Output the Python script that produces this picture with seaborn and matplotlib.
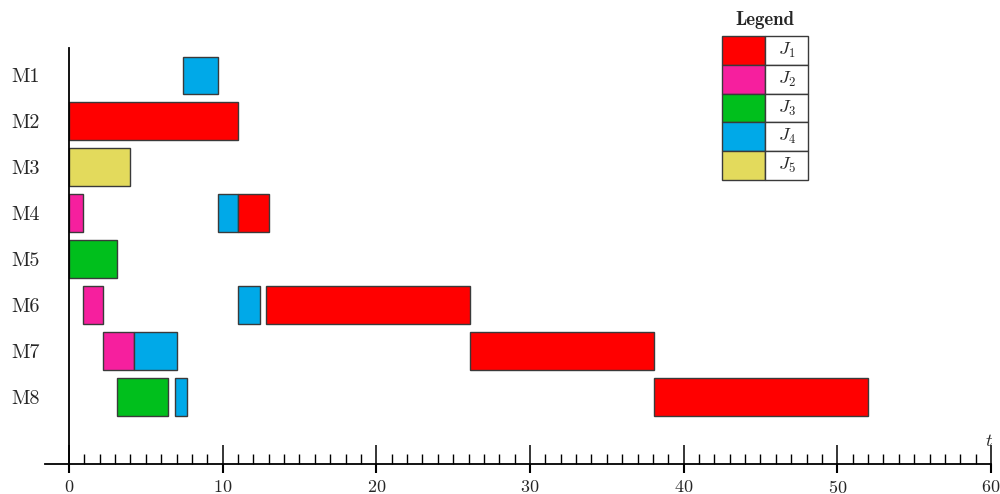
import matplotlib
matplotlib.use("Agg")
import matplotlib.pyplot as plt
import matplotlib.transforms as mtransforms
from matplotlib.patches import Rectangle
import seaborn as sns
import pandas as pd

# schedule data
machines = ["M1", "M2", "M3", "M4", "M5", "M6", "M7", "M8"]
task_machine = ["M1", "M2", "M3", "M4", "M4", "M4", "M5", "M6", "M6", "M6",
                "M7", "M7", "M7", "M8", "M8", "M8"]
task_job = ["J4", "J1", "J5", "J2", "J4", "J1", "J3", "J2", "J4", "J1",
            "J2", "J4", "J1", "J3", "J4", "J1"]
task_start = [7.4, 0, 0, 0, 9.7, 11.0, 0, 0.9, 11.0, 12.8,
              2.2, 4.2, 26.1, 3.1, 6.9, 38.1]
task_end = [9.7, 11.0, 4.0, 0.9, 11.0, 13.0, 3.1, 2.2, 12.4, 26.1,
            4.2, 7.0, 38.1, 6.45, 7.7, 52.0]

jobs = ["J1", "J2", "J3", "J4", "J5"]
job_labels = [r"$J_1$", r"$J_2$", r"$J_3$", r"$J_4$", r"$J_5$"]
job_colors = ["#FF0000", "#F61F9E", "#00BF1C", "#00A9E8", "#E3DA5C"]

df = pd.DataFrame({"machine": task_machine, "job": task_job,
                   "start": task_start, "end": task_end})
df["row"] = df["machine"].map({m: i for i, m in enumerate(machines)})
df["dur"] = df["end"] - df["start"]
palette = dict(zip(jobs, job_colors))

sns.set_style("white")
plt.rcParams["font.family"] = ["cmr10", "DejaVu Serif"]
plt.rcParams["mathtext.fontset"] = "cm"
plt.rcParams["axes.formatter.use_mathtext"] = True

fig = plt.figure(figsize=(10, 4.94), dpi=100)
ax = fig.add_axes([0.045, 1 - 464 / 494, 0.991 - 0.045, (464 - 48) / 494])

ax.barh(df["row"], df["dur"], left=df["start"], height=0.81,
        color=df["job"].map(palette), edgecolor="#3a3a3a", linewidth=1.0)

ax.set_xlim(-1.56, 60)
ax.set_ylim(8.46, -0.59)
ax.set_yticks(range(len(machines)))
ax.set_yticklabels(machines)

for s in ["top", "right"]:
    ax.spines[s].set_visible(False)
ax.spines["left"].set_position(("data", 0))
ax.spines["left"].set_linewidth(1.3)
ax.spines["bottom"].set_linewidth(1.3)
ax.spines["left"].set_color("black")
ax.spines["bottom"].set_color("black")

ax.set_xticks(range(0, 61, 10))
ax.set_xticks(range(0, 61, 1), minor=True)
ax.tick_params(axis="x", which="major", bottom=True, direction="in", length=13.7,
               width=1.1, pad=11, labelsize=13, color="black")
ax.tick_params(axis="x", which="minor", bottom=True, direction="in", length=7.2,
               width=1.0, color="black")
ax.tick_params(axis="y", left=False, length=0, pad=21, labelsize=14.5)
ax.set_xlabel("")
ax.set_ylabel("")

# downward part of the major ticks
trans = mtransforms.blended_transform_factory(ax.transData, ax.transAxes)
ax.vlines(range(0, 61, 10), -9 / 416, 0, transform=trans, color="black",
          linewidth=1.5, clip_on=False)
ax.text(59.85, 0.035, r"$t$", transform=trans, fontsize=13, ha="center",
        va="bottom")

# legend table
lx0, lx1, lx2 = 722 / 1000, 765 / 1000, 808 / 1000
ly_top = 1 - 36 / 494
row_h = 28.8 / 494
for i, (lab, col) in enumerate(zip(job_labels, job_colors)):
    y0 = ly_top - (i + 1) * row_h
    fig.patches.append(Rectangle((lx0, y0), lx1 - lx0, row_h, facecolor=col,
                                 edgecolor="#3a3a3a", linewidth=1.0,
                                 transform=fig.transFigure))
    fig.patches.append(Rectangle((lx1, y0), lx2 - lx1, row_h, facecolor="white",
                                 edgecolor="#3a3a3a", linewidth=1.0,
                                 transform=fig.transFigure))
    fig.text((lx1 + lx2) / 2, y0 + row_h / 2, lab, fontsize=13,
             ha="center", va="center")
fig.text((lx0 + lx2) / 2, 1 - 20 / 494, "Legend", fontsize=13.5,
         family=["cmb10", "DejaVu Serif"], ha="center", va="center")

fig.savefig("out.png", dpi=100)
